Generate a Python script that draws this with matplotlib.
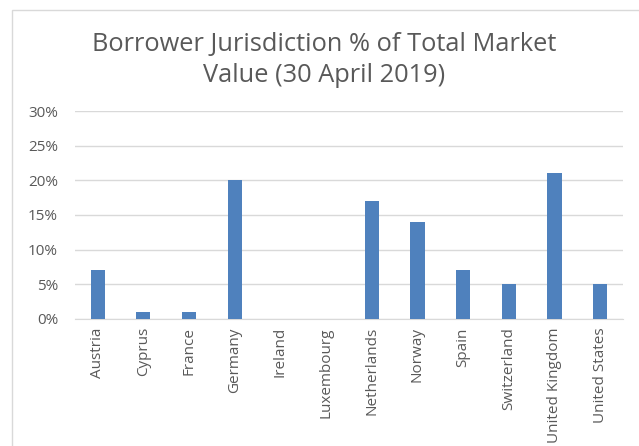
import matplotlib.pyplot as plt
from matplotlib.ticker import PercentFormatter
from matplotlib.patches import Rectangle

plt.rcParams['font.family'] = ['Open Sans', 'DejaVu Sans']

countries = ['Austria', 'Cyprus', 'France', 'Germany', 'Ireland', 'Luxembourg',
             'Netherlands', 'Norway', 'Spain', 'Switzerland', 'United Kingdom', 'United States']
share = [7, 1, 1, 20, 0, 0, 17, 14, 7, 5, 21, 5]
yticks = [0, 5, 10, 15, 20, 25, 30]

fig = plt.figure(figsize=(6.39, 4.46), dpi=100)
ax = fig.add_axes([0.117, 0.285, 0.858, 0.466])

# chart border, cropped on the right and bottom like the original
fig.patches.append(Rectangle((12 / 639, -0.1), 1.0, 1.1 - 10 / 446, transform=fig.transFigure,
                             fill=False, edgecolor='#d9d9d9', linewidth=1))

ax.bar(range(len(countries)), share, width=0.31, color='#4f81bd', zorder=3)

ax.set_xlim(-0.5, len(countries) - 0.5)
ax.set_ylim(0, 30)
ax.set_yticks(yticks)
ax.yaxis.set_major_formatter(PercentFormatter(decimals=0))
ax.set_xticks(range(len(countries)))
ax.set_xticklabels(countries, rotation=90)
ax.tick_params(axis='both', length=0, labelsize=11, labelcolor='#595959')
ax.tick_params(axis='y', pad=12)
ax.tick_params(axis='x', pad=6)

ax.grid(axis='y', color='#d9d9d9', linewidth=1, zorder=0)
for s in ['top', 'right', 'left']:
    ax.spines[s].set_visible(False)
ax.spines['bottom'].set_color('#d9d9d9')

fig.text(0.507, 0.865, 'Borrower Jurisdiction % of Total Market\nValue (30 April 2019)',
         ha='center', va='center', fontsize=18.3, color='#595959', linespacing=1.3)

plt.savefig('out.png', dpi=100)
